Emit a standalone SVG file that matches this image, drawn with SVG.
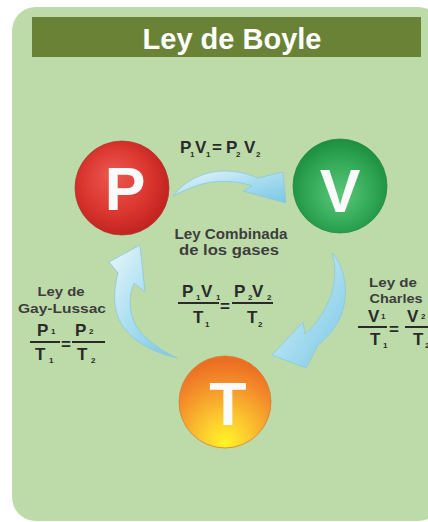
<svg xmlns="http://www.w3.org/2000/svg" width="428" height="522" viewBox="0 0 428 522">
<defs>
<radialGradient id="gP" cx="0.45" cy="0.45" r="0.55" fx="0.4" fy="0.35">
<stop offset="0" stop-color="#ec5a50"/><stop offset="0.65" stop-color="#db3630"/><stop offset="1" stop-color="#c22420"/>
</radialGradient>
<radialGradient id="gV" cx="0.5" cy="0.55" r="0.55" fx="0.5" fy="0.6">
<stop offset="0" stop-color="#5cc77c"/><stop offset="0.6" stop-color="#33aa57"/><stop offset="1" stop-color="#1d8e3f"/>
</radialGradient>
<radialGradient id="gT" cx="0.5" cy="0.85" r="0.8" fx="0.5" fy="0.95">
<stop offset="0" stop-color="#fff524"/><stop offset="0.35" stop-color="#fcc630"/><stop offset="0.75" stop-color="#f38c2a"/><stop offset="1" stop-color="#ec6e22"/>
</radialGradient>
<linearGradient id="gA" x1="0" y1="0" x2="1" y2="1">
<stop offset="0" stop-color="#eaf7fb"/><stop offset="0.5" stop-color="#a9def0"/><stop offset="1" stop-color="#7cc6e4"/>
</linearGradient>
<style>
.t{font-family:"Liberation Sans",Arial,sans-serif;font-weight:bold}
.f{font-size:17px;fill:#2a2a2a}
.s{font-size:8px;fill:#2a2a2a}
.lb{font-size:13px;fill:#3d3d3d}
.big{font-size:61px;fill:#fbfbfb;text-anchor:middle}
.arr{fill:url(#gA);stroke:#8cc6dc;stroke-width:0.8}
.fl{stroke:#2a2a2a;stroke-width:2}
</style>
</defs>
<rect x="12" y="7" width="430" height="514" rx="24" fill="#bddba9"/>
<g id="title">
<rect x="32" y="17" width="389" height="40" fill="#6a8236"/>
<text class="t" x="232" y="49" font-size="29" fill="#ffffff" text-anchor="middle">Ley de Boyle</text>
</g>
<g id="connectors">
<path class="arr" d="M173,196 C185,180 205,171 225,171 C240,171 250,175 258,178 L283,172 L286,203 L243,191 L252,186 C238,181 225,181 212,182 C198,184 185,190 173,196 Z"/>
<path class="arr" d="M332,253 C345,266 349,292 342,313 C337,327 327,338 318,345 L306,368 L272,355 L303,322 L305,334 C318,323 329,305 333,288 C336,274 335,262 332,253 Z"/>
<path class="arr" d="M177,358 C158,354 136,344 124,328 C114,314 112,296 118,273 L109,262 L140,245 L145,292 L134,283 C128,298 129,312 136,326 C146,340 160,350 177,358 Z"/>
</g>
<g id="node-P">
<circle cx="122" cy="188" r="47" fill="url(#gP)" stroke="#b03a30" stroke-width="0.8"/>
<text class="t big" x="125" y="210">P</text>
</g>
<g id="node-V">
<circle cx="340" cy="186" r="47" fill="url(#gV)" stroke="#2a8a48" stroke-width="0.8"/>
<text class="t big" x="340" y="212">V</text>
</g>
<g id="node-T">
<circle cx="225" cy="402" r="46" fill="url(#gT)" stroke="#d0803a" stroke-width="0.8"/>
<text class="t big" x="228" y="425">T</text>
</g>
<g id="boyle-formula">
<text class="t f" x="180" y="153">P</text><text class="t s" x="190" y="157">1</text>
<text class="t f" x="195" y="153">V</text><text class="t s" x="206" y="157">1</text>
<text class="t f" x="212" y="153">=</text>
<text class="t f" x="226" y="153">P</text><text class="t s" x="236" y="157">2</text>
<text class="t f" x="244" y="153">V</text><text class="t s" x="256" y="157">2</text>
</g>
<g id="combined">
<text class="t" x="231" y="239" font-size="14" fill="#3d3d3d" text-anchor="middle" textLength="113" lengthAdjust="spacingAndGlyphs">Ley Combinada</text>
<text class="t" x="229" y="255" font-size="14" fill="#3d3d3d" text-anchor="middle" textLength="100" lengthAdjust="spacingAndGlyphs">de los gases</text>
<text class="t f" x="182" y="297">P</text><text class="t s" x="196" y="300">1</text>
<text class="t f" x="201" y="297">V</text><text class="t s" x="216" y="300">1</text>
<line class="fl" x1="178" y1="303" x2="219" y2="303"/>
<text class="t f" x="193" y="323">T</text><text class="t s" x="205" y="327">1</text>
<text class="t f" x="220" y="312">=</text>
<text class="t f" x="234" y="297">P</text><text class="t s" x="248" y="300">2</text>
<text class="t f" x="252" y="297">V</text><text class="t s" x="267" y="300">2</text>
<line class="fl" x1="232" y1="303" x2="273" y2="303"/>
<text class="t f" x="247" y="323">T</text><text class="t s" x="258" y="327">2</text>
</g>
<g id="gay-lussac">
<text class="t lb" x="61" y="296" text-anchor="middle" textLength="47" lengthAdjust="spacingAndGlyphs">Ley de</text>
<text class="t lb" x="62" y="313" text-anchor="middle" textLength="88" lengthAdjust="spacingAndGlyphs">Gay-Lussac</text>
<text class="t f" x="37" y="336">P</text><text class="t s" x="51" y="334">1</text>
<line class="fl" x1="30" y1="342" x2="60" y2="342"/>
<text class="t f" x="35" y="360">T</text><text class="t s" x="49" y="363">1</text>
<text class="t f" x="61" y="350">=</text>
<text class="t f" x="75" y="336">P</text><text class="t s" x="89" y="334">2</text>
<line class="fl" x1="72" y1="342" x2="105" y2="342"/>
<text class="t f" x="77" y="360">T</text><text class="t s" x="91" y="363">2</text>
</g>
<g id="charles">
<text class="t lb" x="393" y="287" text-anchor="middle" textLength="48" lengthAdjust="spacingAndGlyphs">Ley de</text>
<text class="t lb" x="396" y="303" text-anchor="middle" textLength="53" lengthAdjust="spacingAndGlyphs">Charles</text>
<text class="t f" x="368" y="322">V</text><text class="t s" x="381" y="319">1</text>
<line class="fl" x1="358" y1="327" x2="387" y2="327"/>
<text class="t f" x="370" y="345">T</text><text class="t s" x="383" y="348">1</text>
<text class="t f" x="389" y="335">=</text>
<text class="t f" x="407" y="322">V</text><text class="t s" x="421" y="319">2</text>
<line class="fl" x1="405" y1="327" x2="430" y2="327"/>
<text class="t f" x="413" y="345">T</text><text class="t s" x="425" y="348">2</text>
</g>
</svg>
